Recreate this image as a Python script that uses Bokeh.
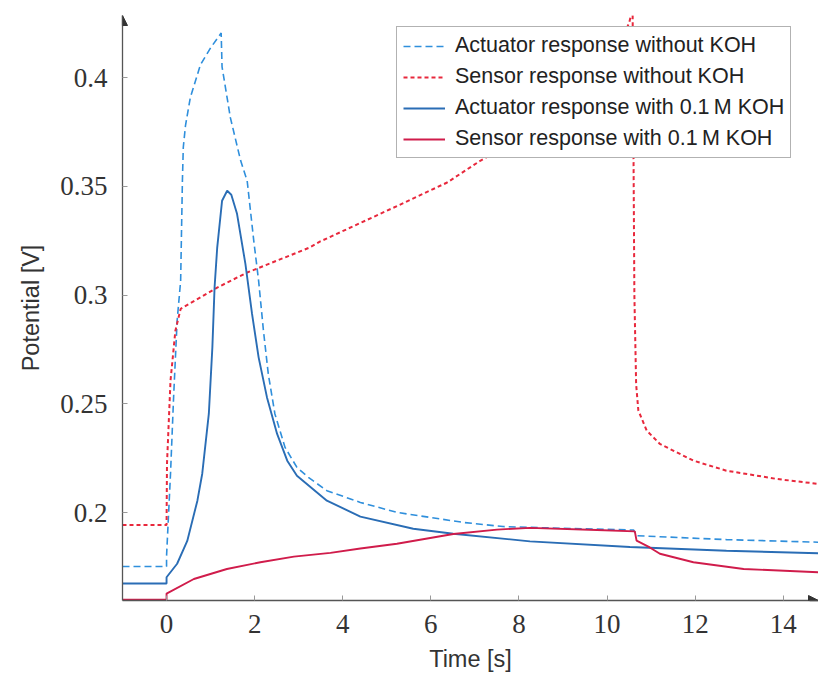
from bokeh.plotting import figure
from bokeh.models import Range1d, FixedTicker, Legend, LegendItem, Arrow, NormalHead
from bokeh.embed import file_html
from bokeh.resources import INLINE

# ---------------- data ----------------
act_no_t = [-1.0, 0.0, 0.0, 0.09, 0.16, 0.24, 0.32, 0.36, 0.38, 0.43, 0.54, 0.77, 1.0, 1.22, 1.24,
            1.26, 1.45, 1.68, 1.83, 1.98, 2.09, 2.2, 2.31, 2.46, 2.69, 2.96, 3.22, 3.64, 4.4,
            5.23, 6.74, 7.64, 9.0, 10.6, 10.68, 12.71, 14.8]
act_no_v = [0.1752, 0.1752, 0.18, 0.2179, 0.253, 0.2882, 0.3066, 0.3526, 0.368, 0.378, 0.3909, 0.406,
            0.4137, 0.42, 0.4205, 0.405, 0.3815, 0.362, 0.3526, 0.325, 0.3066, 0.2836, 0.2637,
            0.2454, 0.23, 0.2208, 0.2162, 0.2101, 0.2047, 0.2001, 0.1955, 0.1936, 0.1928, 0.192,
            0.1894, 0.1876, 0.1864]

sen_no_t = [-1.0, 0.0, 0.01, 0.09, 0.2, 0.32, 1.15, 1.83, 3.25, 3.49, 5.16, 6.37, 7.12, 8.0,
            9.0, 10.0, 10.5, 10.58, 10.62, 10.66, 10.71, 10.9, 11.2, 11.96, 12.71, 13.85, 14.8]
sen_no_v = [0.1943, 0.1943, 0.2225, 0.2607, 0.2836, 0.2937, 0.3035, 0.3104, 0.3219, 0.3247,
            0.3403, 0.3518, 0.3618, 0.372, 0.386, 0.405, 0.425, 0.432, 0.30, 0.259, 0.247,
            0.2377, 0.2316, 0.2239, 0.2193, 0.2155, 0.2132]

act_koh_t = [-1.0, 0.0, 0.0, 0.24, 0.47, 0.7, 0.81, 0.96, 1.04, 1.09, 1.15, 1.26, 1.376, 1.47,
             1.6, 1.79, 1.94, 2.09, 2.28, 2.51, 2.74, 2.96, 3.64, 4.4, 5.6, 6.51, 8.25, 10.52,
             12.71, 14.8]
act_koh_v = [0.1674, 0.1674, 0.1703, 0.1765, 0.187, 0.2055, 0.2179, 0.2455, 0.276, 0.3035,
             0.3219, 0.3434, 0.348, 0.3462, 0.3374, 0.3144, 0.2915, 0.2714, 0.253, 0.2362,
             0.2239, 0.217, 0.2055, 0.1982, 0.1926, 0.1903, 0.1868, 0.1842, 0.1825, 0.1813]

sen_koh_t = [-1.0, 0.0, 0.0, 0.62, 1.37, 2.13, 2.89, 3.72, 4.4, 5.23, 6.51, 7.5, 8.25, 9.77,
             10.63, 10.67, 10.97, 11.2, 11.96, 13.1, 14.8]
sen_koh_v = [0.16, 0.16, 0.1628, 0.1695, 0.1741, 0.1772, 0.1798, 0.1815, 0.1835, 0.1857,
             0.1902, 0.1922, 0.193, 0.192, 0.1914, 0.1871, 0.184, 0.1811, 0.1772, 0.1741, 0.1726]

x_ticks = [0, 2, 4, 6, 8, 10, 12, 14]
y_ticks = [0.2, 0.25, 0.3, 0.35, 0.4]
y_tick_labels = ["0.2", "0.25", "0.3", "0.35", "0.4"]

labels = ["Actuator response without KOH",
          "Sensor response without KOH",
          "Actuator response with 0.1\u2009M KOH",
          "Sensor response with 0.1\u2009M KOH"]

X_MIN, X_MAX = -1.0, 14.8
Y_MIN, Y_MAX = 0.1596, 0.4286

# ---------------- figure ----------------
p = figure(width=818, height=675, output_backend="svg", toolbar_location=None,
           x_range=Range1d(X_MIN, X_MAX), y_range=Range1d(Y_MIN, Y_MAX),
           min_border_left=122, min_border_right=0, min_border_top=15, min_border_bottom=75)
p.outline_line_color = None
p.grid.visible = False
p.background_fill_color = "white"
p.border_fill_color = "white"

BLUE_D = "#2f8fdc"
RED_D = "#e8283c"
BLUE_S = "#2a6db5"
RED_S = "#d01c4b"

r1 = p.line(act_no_t, act_no_v, line_color=BLUE_D, line_width=1.6, line_dash="7 4")
r2 = p.line(sen_no_t, sen_no_v, line_color=RED_D, line_width=2.0, line_dash="4 3")
r3 = p.line(act_koh_t, act_koh_v, line_color=BLUE_S, line_width=1.9)
r4 = p.line(sen_koh_t, sen_koh_v, line_color=RED_S, line_width=1.9)

# axes
for ax in (p.xaxis[0], p.yaxis[0]):
    ax.axis_line_color = "#555555"
    ax.axis_line_width = 1.3
    ax.major_tick_in = 5
    ax.major_tick_out = 0
    ax.major_tick_line_color = "#999999"
    ax.minor_tick_line_color = None
    ax.major_label_text_font = "Liberation Serif"
    ax.major_label_text_font_size = "27px"
    ax.major_label_text_color = "#333333"
    ax.axis_label_text_font = "Liberation Sans"
    ax.axis_label_text_font_size = "23.5px"
    ax.axis_label_text_font_style = "normal"
    ax.axis_label_text_color = "#333333"

p.xaxis.ticker = FixedTicker(ticks=x_ticks)
p.yaxis.ticker = FixedTicker(ticks=y_ticks)
p.yaxis.major_label_overrides = {t: s for t, s in zip(y_ticks, y_tick_labels)}
p.xaxis.axis_label = "Time [s]"
p.yaxis.axis_label = "Potential [V]"
p.xaxis.major_label_standoff = 14
p.yaxis.major_label_standoff = 15
p.xaxis.axis_label_standoff = 10
p.yaxis.axis_label_standoff = 13

# axis arrows
p.add_layout(Arrow(end=NormalHead(size=10, fill_color="#333333", line_color="#333333"),
                   x_start=X_MIN, y_start=Y_MAX - 0.005, x_end=X_MIN, y_end=Y_MAX,
                   line_color="#555555", line_width=1.3))
p.add_layout(Arrow(end=NormalHead(size=10, fill_color="#333333", line_color="#333333"),
                   x_start=X_MAX - 0.2, y_start=Y_MIN, x_end=X_MAX, y_end=Y_MIN,
                   line_color="#555555", line_width=1.3))

legend = Legend(items=[LegendItem(label=labels[0], renderers=[r1]),
                       LegendItem(label=labels[1], renderers=[r2]),
                       LegendItem(label=labels[2], renderers=[r3]),
                       LegendItem(label=labels[3], renderers=[r4])],
                location=(274, 442))
legend.label_text_font = "Liberation Sans"
legend.label_text_font_size = "21.5px"
legend.label_text_color = "#222222"
legend.glyph_width = 42
legend.glyph_height = 20
legend.label_standoff = 10
legend.padding = 6
legend.spacing = 6
legend.margin = 0
legend.border_line_color = "#666666"
legend.border_line_width = 1.2
legend.background_fill_alpha = 1.0
p.add_layout(legend)

open("out.html", "w").write(file_html(p, INLINE))
